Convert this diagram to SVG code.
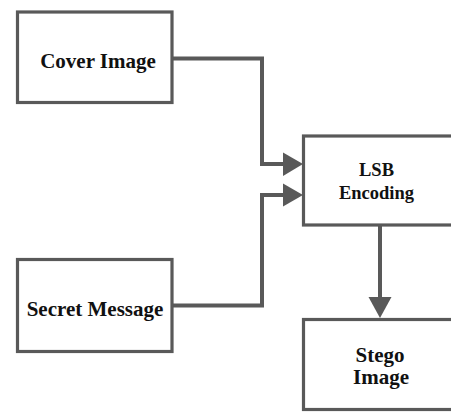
<svg xmlns="http://www.w3.org/2000/svg" width="451" height="412" viewBox="0 0 451 412">
<style>
.box{fill:#fff;stroke:#595959;stroke-width:3.2}
.lbl{font-family:"Liberation Serif","Times New Roman",serif;font-weight:bold;fill:#111;text-anchor:middle}
.big{font-size:21px}
.mid{font-size:18.5px}
.con{fill:none;stroke:#595959;stroke-width:4;stroke-linejoin:miter}
.head{fill:#595959}
</style>
<rect width="451" height="412" fill="#fff"/>
<g id="connectors">
<polyline class="con" points="172,58.5 262,58.5 262,164 285,164"/>
<polygon class="head" points="283,152.5 303,164 283,176"/>
<polyline class="con" points="172,305.5 262,305.5 262,195 285,195"/>
<polygon class="head" points="283,183.5 303,195 283,206.5"/>
<line class="con" x1="380" y1="225" x2="380" y2="300"/>
<polygon class="head" points="368.5,297 391.5,297 380,318"/>
</g>
<g id="cover-image">
<rect class="box" x="17.5" y="12" width="154.5" height="90.5"/>
<text class="lbl big" x="98" y="68">Cover Image</text>
</g>
<g id="secret-message">
<rect class="box" x="17.5" y="259.5" width="154.5" height="92"/>
<text class="lbl big" x="95" y="316">Secret Message</text>
</g>
<g id="lsb-encoding">
<rect class="box" x="303.5" y="136" width="170" height="89"/>
<text class="lbl mid" x="376.5" y="175.5">LSB</text>
<text class="lbl mid" x="376.5" y="198.5">Encoding</text>
</g>
<g id="stego-image">
<rect class="box" x="303.5" y="319.5" width="170" height="90"/>
<text class="lbl big" x="380" y="361.5">Stego</text>
<text class="lbl big" x="381" y="383.5">Image</text>
</g>
</svg>
